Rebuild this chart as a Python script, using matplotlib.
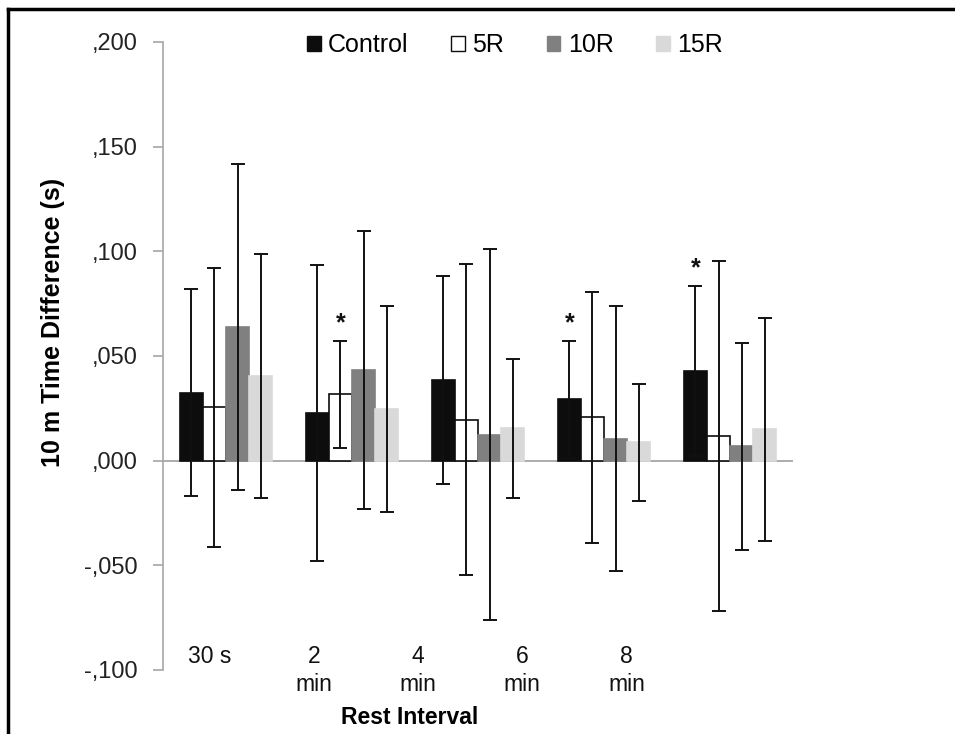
import numpy as np
import matplotlib
matplotlib.use("Agg")
import matplotlib.pyplot as plt
from matplotlib.patches import Patch
from matplotlib.lines import Line2D
from matplotlib.ticker import FuncFormatter

plt.rcParams['font.family'] = ['Liberation Sans', 'DejaVu Sans']

# rest intervals and groups
intervals = ['30 s', '2\nmin', '4\nmin', '6\nmin', '8\nmin']
groups = ['Control', '5R', '10R', '15R']

# mean 10 m time difference (s) per group
control_mean = [0.0324, 0.0227, 0.0386, 0.0293, 0.0429]
r5_mean = [0.0254, 0.0317, 0.0195, 0.0208, 0.0116]
r10_mean = [0.0638, 0.0433, 0.0124, 0.0105, 0.0068]
r15_mean = [0.0405, 0.0246, 0.0154, 0.0087, 0.0149]

# standard deviations
control_sd = [0.0494, 0.0708, 0.0498, 0.0280, 0.0407]
r5_sd = [0.0665, 0.0256, 0.0743, 0.0600, 0.0836]
r10_sd = [0.0778, 0.0664, 0.0886, 0.0632, 0.0494]
r15_sd = [0.0581, 0.0492, 0.0331, 0.0279, 0.0532]

# significant differences: (interval index, group index)
significant = [(1, 1), (3, 0), (4, 0)]

means = [control_mean, r5_mean, r10_mean, r15_mean]
sds = [control_sd, r5_sd, r10_sd, r15_sd]
colors = ['#0d0d0d', '#ffffff', '#808080', '#d9d9d9']
edges = ['#0d0d0d', '#0d0d0d', '#808080', '#d9d9d9']

fig = plt.figure(figsize=(9.55, 7.34), dpi=100)
ax = fig.add_axes([0.1707, 0.0872, 0.6597, 0.8556])

x = np.arange(len(intervals))
w = 0.183
for i in range(len(groups)):
    pos = x + (i - 1.5) * w
    ax.bar(pos, means[i], w, color=colors[i], edgecolor=edges[i], linewidth=1.2, zorder=2)
    ax.errorbar(pos, means[i], yerr=sds[i], fmt='none', ecolor='#111111',
                elinewidth=1.4, capsize=5, capthick=1.4, zorder=3)

for gi, si in significant:
    top = means[si][gi] + sds[si][gi]
    ax.text(gi + (si - 1.5) * w, top + 0.0085, '*', ha='center', va='center',
            fontsize=18, fontweight='bold', color='#111111')

ax.axhline(0, color='#a6a6a6', linewidth=1.3, zorder=1)

ax.set_xlim(-0.5, 4.5)
ax.set_ylim(-0.1, 0.2)
ax.set_yticks(np.arange(-0.1, 0.2001, 0.05))
ax.yaxis.set_major_formatter(FuncFormatter(lambda v, p: f"{v:.3f}".replace("0.", ",")))
ax.tick_params(axis='y', direction='out', length=7, width=1.2, color='#a6a6a6',
               labelsize=17, labelcolor='#222222', pad=11)

# category labels sit inside the lower part of the plot area
ax.set_xticks(x * 0.827 - 0.13, intervals)
ax.tick_params(axis='x', length=0, labelsize=16.5, labelcolor='#111111', pad=-18)
for lab in ax.get_xticklabels():
    lab.set_linespacing(1.3)

for s in ['top', 'right', 'bottom']:
    ax.spines[s].set_visible(False)
ax.spines['left'].set_color('#a6a6a6')
ax.spines['left'].set_linewidth(1.2)

fig.text(53 / 955, 1 - 322 / 734, '10 m Time Difference (s)', rotation=90,
         ha='center', va='center', fontsize=18, fontweight='bold')
fig.text(410 / 955, 1 - 718 / 734, 'Rest Interval', ha='center', va='center',
         fontsize=16.5, fontweight='bold')

handles = [Patch(facecolor=colors[i], edgecolor=edges[i], linewidth=1.0) for i in range(4)]
fig.legend(handles, groups, loc='center', bbox_to_anchor=(515 / 955, 1 - 45 / 734),
           ncol=4, frameon=False, fontsize=18, handlelength=0.55, handleheight=0.55,
           handletextpad=0.3, columnspacing=1.7)

# frame lines on the left and top edges of the picture
fig.add_artist(Line2D([8 / 955, 8 / 955], [0, 1 - 9 / 734], color='black', linewidth=2.5,
                      transform=fig.transFigure))
fig.add_artist(Line2D([8 / 955, 1], [1 - 9 / 734, 1 - 9 / 734], color='black', linewidth=2.5,
                      transform=fig.transFigure))

fig.savefig('out.png', dpi=100)
